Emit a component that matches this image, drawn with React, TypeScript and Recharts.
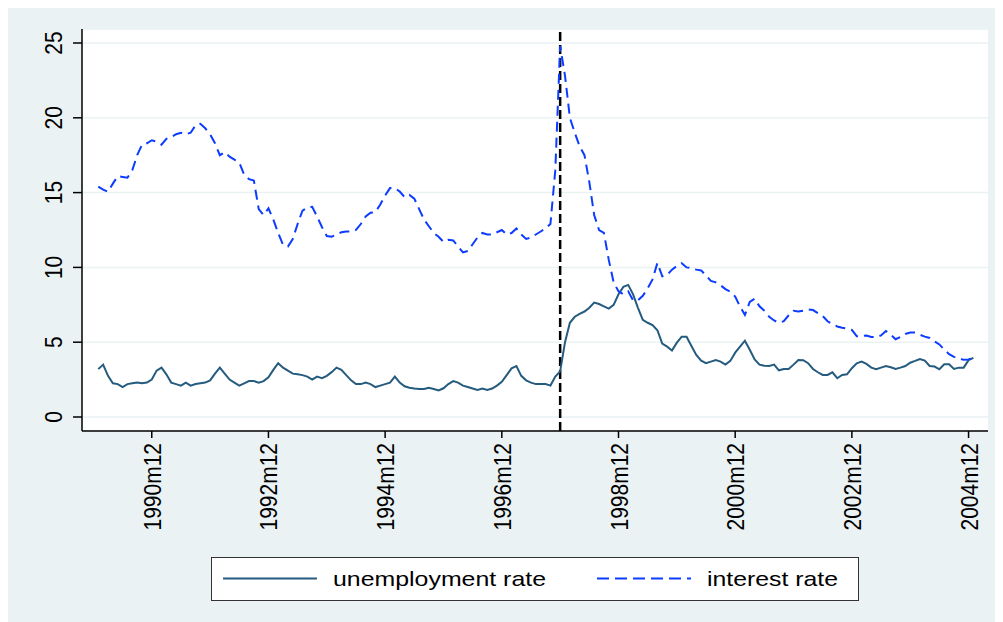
import React from 'react';
import { LineChart, Line, XAxis, YAxis, CartesianGrid, ReferenceLine } from 'recharts';

// monthly values, 1990m1 .. 2005m1
const unemployment = [
  3.2, 3.5, 2.75, 2.25, 2.2, 2.0, 2.2, 2.25, 2.3, 2.25, 2.3, 2.5,
  3.1, 3.3, 2.85, 2.3, 2.2, 2.1, 2.3, 2.1, 2.2, 2.25, 2.3, 2.45,
  2.9, 3.3, 2.9, 2.5, 2.3, 2.1, 2.25, 2.4, 2.4, 2.3, 2.4, 2.65,
  3.15, 3.6, 3.3, 3.1, 2.9, 2.85, 2.8, 2.7, 2.5, 2.7, 2.6, 2.75,
  3.0, 3.3, 3.15, 2.8, 2.45, 2.2, 2.2, 2.3, 2.2, 2.0, 2.1, 2.2,
  2.3, 2.7, 2.3, 2.05, 1.95, 1.9, 1.87, 1.87, 1.95, 1.87, 1.78, 1.92,
  2.2, 2.4, 2.3, 2.1, 2.0, 1.9, 1.8, 1.9, 1.8, 1.9, 2.1, 2.35,
  2.8, 3.25, 3.4, 2.75, 2.45, 2.3, 2.2, 2.2, 2.2, 2.1, 2.7, 3.05,
  5.0, 6.3, 6.7, 6.9, 7.05, 7.3, 7.65, 7.55, 7.4, 7.25, 7.5, 8.2,
  8.7, 8.83, 8.2, 7.3, 6.5, 6.3, 6.15, 5.8, 4.9, 4.7, 4.45, 4.97,
  5.37, 5.37, 4.75, 4.15, 3.77, 3.6, 3.7, 3.8, 3.7, 3.5, 3.75, 4.3,
  4.7, 5.1, 4.5, 3.85, 3.5, 3.43, 3.41, 3.5, 3.12, 3.21, 3.21, 3.5,
  3.81, 3.8, 3.6, 3.21, 2.99, 2.81, 2.81, 2.99, 2.59, 2.81, 2.85, 3.26,
  3.59, 3.7, 3.55, 3.3, 3.19, 3.3, 3.41, 3.32, 3.21, 3.3, 3.41, 3.63,
  3.75, 3.88, 3.77, 3.41, 3.37, 3.19, 3.52, 3.52, 3.21, 3.3, 3.3, 3.8,
  3.95,
];

const interest = [
  15.4, 15.2, 15.05, 15.6, 16.1, 16.05, 16.0, 16.5, 17.5, 18.2, 18.3, 18.5,
  18.4, 18.2, 18.6, 18.7, 18.9, 19.0, 18.9, 19.0, 19.5, 19.6, 19.3, 18.9,
  18.3, 17.5, 17.7, 17.4, 17.2, 17.0, 16.2, 15.9, 15.8, 13.9, 13.5, 13.95,
  13.2, 12.3, 11.5, 11.4, 11.9, 12.9, 13.8, 14.0, 14.05, 13.4, 12.7, 12.1,
  12.05, 12.2, 12.35, 12.4, 12.4, 12.5, 12.9, 13.4, 13.65, 13.7, 14.2, 14.8,
  15.3, 15.3, 15.07, 14.7, 14.85, 14.6, 13.9, 13.2, 12.75, 12.3, 12.05, 11.7,
  11.85, 11.8, 11.4, 11.0, 11.1, 11.55, 12.0, 12.3, 12.2, 12.2, 12.35, 12.5,
  12.2, 12.3, 12.6, 12.2, 11.9, 12.0, 12.2, 12.4, 12.6, 12.9, 16.5, 24.8,
  22.8, 20.0, 19.0, 18.1, 17.5, 15.7, 13.5, 12.5, 12.3, 10.5, 9.0, 8.4,
  8.2, 8.4, 7.8, 7.8, 8.1, 8.6, 9.2, 10.3, 9.4, 9.5, 9.85, 10.1,
  10.28, 10.0, 9.95, 9.85, 9.8, 9.45, 9.1, 9.0, 8.8, 8.55, 8.38, 8.05,
  7.38, 6.82, 7.7, 7.9, 7.4, 7.1, 6.7, 6.45, 6.3, 6.4, 6.8, 7.1,
  7.05, 7.1, 7.2, 7.15, 6.95, 6.75, 6.4, 6.2, 6.05, 5.97, 5.9, 5.82,
  5.4, 5.4, 5.45, 5.35, 5.33, 5.45, 5.75, 5.5, 5.2, 5.35, 5.55, 5.64,
  5.64, 5.5, 5.37, 5.28, 5.05, 4.85, 4.5, 4.2, 4.02, 3.93, 3.82, 3.85,
  3.97,
];

const yTicks = [0, 5, 10, 15, 20, 25];
const xTickLabels = ['1990m12', '1992m12', '1994m12', '1996m12', '1998m12', '2000m12', '2002m12', '2004m12'];
const breakMonth = '1997m12';
const seriesNames = ['unemployment rate', 'interest rate'];

const startYear = 1990;
const months = unemployment.map((_, i) => `${startYear + Math.floor(i / 12)}m${(i % 12) + 1}`);
const data = months.map((m, i) => ({ t: i, month: m, unemp: unemployment[i], interest: interest[i] }));
const xTicks = xTickLabels.map(l => months.indexOf(l));

const FONT = '"Liberation Sans", Arial, Helvetica, sans-serif';
const STRETCH = 1.18; // the reference is a bit wider than tall
const UNEMP_COLOR = '#245b7e';
const RATE_COLOR = '#0b3cff';
const BG = '#eaf2f3';

function XTick(props: any) {
  const { x, y, payload } = props;
  return (
    <text
      transform={`translate(${x + 9},${y}) scale(${STRETCH},1) rotate(-90)`}
      textAnchor="end"
      fontSize={21}
      fontFamily={FONT}
      fill="#000"
    >
      {months[payload.value]}
    </text>
  );
}

function YTick(props: any) {
  const { x, y, payload } = props;
  return (
    <text
      transform={`translate(${x},${y}) scale(${STRETCH},1) rotate(-90)`}
      textAnchor="middle"
      fontSize={21}
      fontFamily={FONT}
      fill="#000"
    >
      {payload.value}
    </text>
  );
}

function ChartLegend() {
  return (
    <svg width={648} height={44} style={{ position: 'absolute', left: 203, top: 549 }}>
      <rect x={0.5} y={0.5} width={647} height={43} fill="#fff" stroke="#333" strokeWidth={1} />
      <line x1={12} x2={106} y1={21.5} y2={21.5} stroke={UNEMP_COLOR} strokeWidth={2} />
      <text x={122} y={29} fontSize={21} fontFamily={FONT} fill="#000" textLength={213} lengthAdjust="spacingAndGlyphs">
        {seriesNames[0]}
      </text>
      <line x1={386} x2={480} y1={21.5} y2={21.5} stroke={RATE_COLOR} strokeWidth={2} strokeDasharray="12 6" />
      <text x={496} y={29} fontSize={21} fontFamily={FONT} fill="#000" textLength={131} lengthAdjust="spacingAndGlyphs">
        {seriesNames[1]}
      </text>
    </svg>
  );
}

export default function App() {
  return (
    <div style={{ position: 'relative', width: 987, height: 614, background: BG }}>
      <LineChart width={987} height={540} data={data} margin={{ top: 21, right: 7, bottom: 0, left: 0 }}>
        <CartesianGrid vertical={false} stroke={BG} strokeWidth={1.5} fill="#fff" fillOpacity={1} />
        <XAxis
          dataKey="t"
          type="number"
          domain={[-3.35, 183]}
          ticks={xTicks}
          interval={0}
          allowDataOverflow
          height={117}
          tickSize={7}
          tickMargin={5}
          axisLine={{ stroke: '#000', strokeWidth: 1.5 }}
          tickLine={{ stroke: '#000', strokeWidth: 1.5 }}
          tick={<XTick />}
        />
        <YAxis
          type="number"
          domain={[-0.936, 25.936]}
          ticks={yTicks}
          interval={0}
          allowDataOverflow
          width={74}
          tickSize={9}
          tickMargin={11}
          axisLine={{ stroke: '#000', strokeWidth: 1.5 }}
          tickLine={{ stroke: '#000', strokeWidth: 1.5 }}
          tick={<YTick />}
        />
        <ReferenceLine x={months.indexOf(breakMonth)} stroke="#000" strokeWidth={2.5} strokeDasharray="9 4" />
        <Line
          type="linear"
          dataKey="unemp"
          name={seriesNames[0]}
          stroke={UNEMP_COLOR}
          strokeWidth={2}
          dot={false}
          isAnimationActive={false}
        />
        <Line
          type="linear"
          dataKey="interest"
          name={seriesNames[1]}
          stroke={RATE_COLOR}
          strokeWidth={2}
          strokeDasharray="10 6"
          dot={false}
          isAnimationActive={false}
        />
      </LineChart>
      <ChartLegend />
    </div>
  );
}
